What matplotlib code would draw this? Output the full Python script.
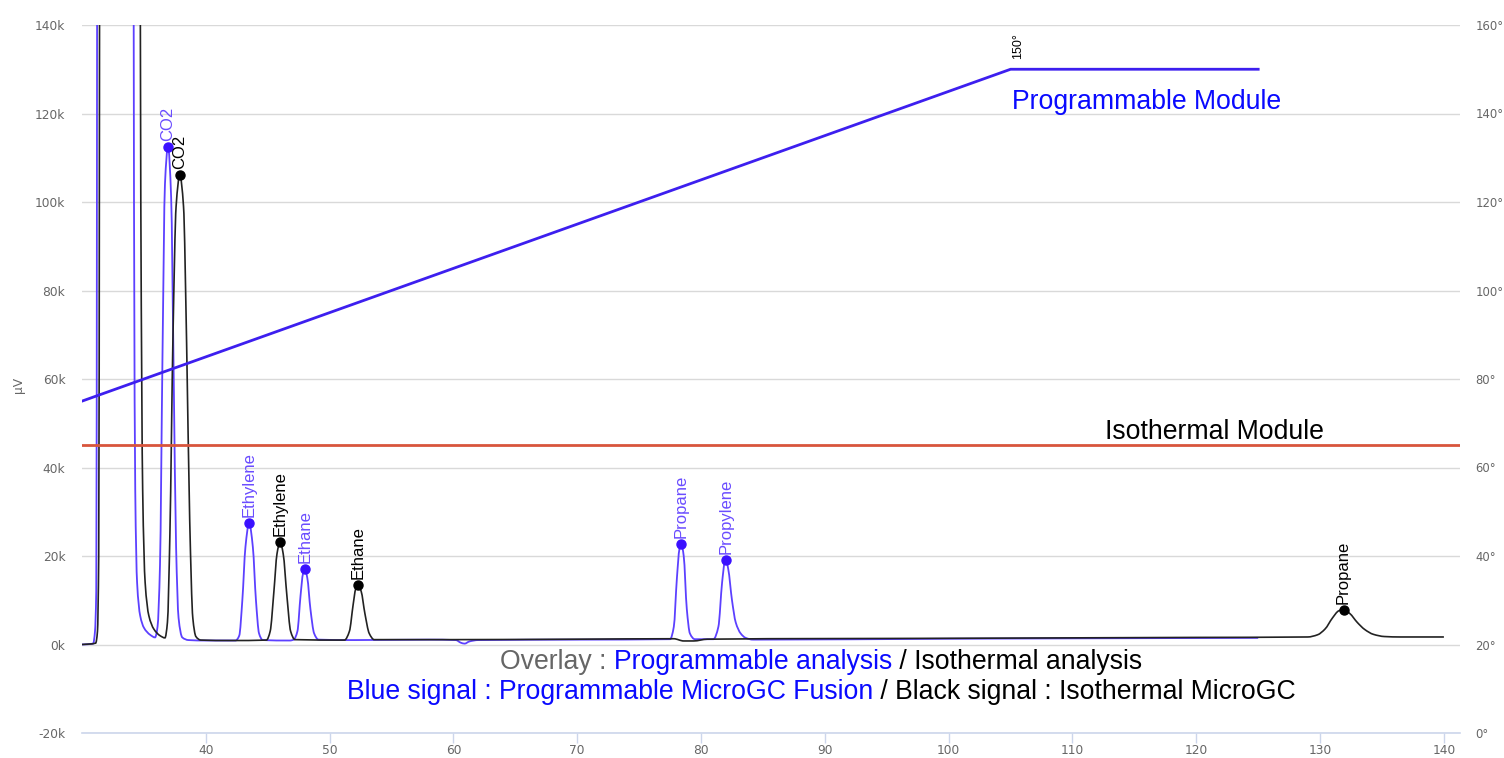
"""
Overlay of two MicroGC chromatograms (programmable vs isothermal module),
with the oven temperature programmes drawn on a secondary axis.
Saves out.png.
"""

import numpy as np
import matplotlib

matplotlib.use("Agg")
import matplotlib.pyplot as plt
from matplotlib.path import Path
from matplotlib.patches import PathPatch

# --- blue signal : programmable MicroGC Fusion (time in min, signal in k uV) ---
blue_time = [30.0, 30.9, 31.05, 31.15, 31.3, 34.1, 34.2, 34.3, 34.45, 34.7,
             35.0, 35.5, 35.9, 36.1, 36.3, 36.5, 36.7, 36.95, 37.2, 37.4,
             37.6, 37.8, 38.1, 38.6, 40.0, 42.4, 42.7, 42.95, 43.2, 43.5,
             43.8, 44.05, 44.3, 44.6, 46.8, 47.1, 47.4, 47.65, 47.85, 48.0,
             48.2, 48.45, 48.75, 49.1, 52.0, 58.0, 60.2, 60.6, 60.9, 61.3,
             62.0, 70.0, 77.5, 77.8, 78.05, 78.25, 78.4, 78.6, 78.85, 79.1,
             79.5, 81.0, 81.4, 81.7, 81.9, 82.0, 82.2, 82.5, 82.8, 83.2,
             83.6, 84.2, 100.0, 125.0]
blue_kuv = [0.0, 0.2, 3, 12, 300, 300, 100, 35, 14, 6.5,
            3.8, 2.2, 1.6, 4, 18, 65, 104, 112.5, 101, 62,
            22, 6, 1.6, 1.0, 0.9, 0.9, 2.0, 10, 22, 27.5,
            22, 10, 2.5, 1.0, 0.9, 1.1, 3, 11, 16, 17,
            15, 8, 2.5, 1.1, 1.0, 1.1, 1.0, 0.4, 0.2, 0.7,
            1.0, 1.1, 1.2, 4, 15, 21.5, 22.8, 20, 8, 2.5,
            1.2, 1.2, 4, 14, 18.5, 19.2, 17, 10, 5, 2.5,
            1.5, 1.1, 1.3, 1.5]

# --- black signal : isothermal MicroGC ---
black_time = [30.0, 31.1, 31.25, 31.35, 31.5, 34.6, 34.75, 34.9, 35.1, 35.4,
              35.8, 36.3, 36.7, 36.9, 37.1, 37.35, 37.6, 37.9, 38.2, 38.45,
              38.7, 38.95, 39.2, 39.6, 42.0, 44.9, 45.2, 45.5, 45.75, 46.0,
              46.25, 46.55, 46.85, 47.2, 51.2, 51.6, 51.9, 52.1, 52.3, 52.55,
              52.85, 53.2, 53.6, 60.0, 70.0, 77.8, 78.6, 79.4, 80.5, 100.0,
              120.0, 129.0, 129.8, 130.4, 131.0, 131.5, 131.9, 132.4, 133.0,
              133.6, 134.3, 135.2, 136.5, 140.0]
black_kuv = [0.0, 0.3, 3, 20, 300, 300, 100, 35, 14, 6.5,
             3.5, 2.0, 1.5, 5, 25, 70, 99, 106, 99, 68,
             28, 6, 1.8, 1.0, 0.9, 1.0, 3, 12, 20.5, 23.2,
             20.5, 11, 3, 1.1, 1.0, 3, 9, 12.5, 13.5, 12,
             7, 2.5, 1.1, 1.1, 1.2, 1.3, 0.8, 0.8, 1.2, 1.4,
             1.6, 1.7, 2.2, 3.5, 6.0, 7.6, 7.9, 7.0, 5.0,
             3.4, 2.3, 1.8, 1.7, 1.7]

# --- identified peaks ---
blue_peak_names = ["CO2", "Ethylene", "Ethane", "Propane", "Propylene"]
blue_peak_time = [36.95, 43.5, 48.0, 78.4, 82.0]
blue_peak_kuv = [112.5, 27.5, 17, 22.8, 19.2]

black_peak_names = ["CO2", "Ethylene", "Ethane", "Propane"]
black_peak_time = [37.9, 46.0, 52.3, 131.9]
black_peak_kuv = [106, 23.2, 13.5, 7.9]

# --- oven temperature programmes (deg C) ---
prog_time = [30, 105, 125]
prog_temp = [75, 150, 150]
iso_time = [30, 141.3]
iso_temp = [65, 65]

# --- axis ticks ---
x_ticks = [40, 50, 60, 70, 80, 90, 100, 110, 120, 130, 140]
uv_ticks_k = [-20, 0, 20, 40, 60, 80, 100, 120, 140]
temp_ticks = [0, 20, 40, 60, 80, 100, 120, 140, 160]

BLUE_SIG = "#5c40ff"
BLUE_DOT = "#3a10ff"
BLUE_LBL = "#6a4cff"
TICK_GREY = "#666666"
AXIS_LINE = "#ccd6eb"
GRID = "#d9d9d9"
SANS = ["Liberation Sans", "DejaVu Sans"]
BIG = 19.2


def spline_path(x, y):
    """Smooth (monotone cubic) path through the given points, like a spline series."""
    x = np.asarray(x, float)
    y = np.asarray(y, float)
    h = np.diff(x)
    d = np.diff(y) / h
    m = np.zeros_like(y)
    m[0], m[-1] = d[0], d[-1]
    for i in range(1, len(x) - 1):
        if d[i - 1] * d[i] > 0:
            w1 = 2 * h[i] + h[i - 1]
            w2 = h[i] + 2 * h[i - 1]
            m[i] = (w1 + w2) / (w1 / d[i - 1] + w2 / d[i])
    verts = [(x[0], y[0])]
    codes = [Path.MOVETO]
    for i in range(len(h)):
        verts += [(x[i] + h[i] / 3, y[i] + m[i] * h[i] / 3),
                  (x[i + 1] - h[i] / 3, y[i + 1] - m[i + 1] * h[i] / 3),
                  (x[i + 1], y[i + 1])]
        codes += [Path.CURVE4] * 3
    return Path(verts, codes)


fig = plt.figure(figsize=(15.04, 7.58), dpi=100)
ax = fig.add_axes([82 / 1504, 1 - 733 / 758, (1460 - 82) / 1504, (733 - 25) / 758])

for t, v, c, lw in ((blue_time, blue_kuv, BLUE_SIG, 1.3),
                    (black_time, black_kuv, "#222222", 1.2)):
    path = spline_path(t, [k * 1000 for k in v])
    ax.add_patch(PathPatch(path, facecolor="none", edgecolor=c, lw=lw, zorder=3))

ax.plot(blue_peak_time, [v * 1000 for v in blue_peak_kuv], "o", color=BLUE_DOT,
        ms=6.5, zorder=4)
ax.plot(black_peak_time, [v * 1000 for v in black_peak_kuv], "o", color="black",
        ms=6.5, zorder=4)

# rotated peak labels just above each marker
for name, t, v in zip(blue_peak_names, blue_peak_time, blue_peak_kuv):
    ax.annotate(name, (t, v * 1000), xytext=(0, 6), textcoords="offset pixels",
                rotation=90, ha="center", va="bottom", color=BLUE_LBL,
                fontsize=12, family=SANS, zorder=5)
for name, t, v in zip(black_peak_names, black_peak_time, black_peak_kuv):
    ax.annotate(name, (t, v * 1000), xytext=(0, 6), textcoords="offset pixels",
                rotation=90, ha="center", va="bottom", color="black",
                fontsize=12, family=SANS, zorder=5)

ax.set_xlim(30, 141.3)
ax.set_ylim(-20000, 140000)
ax.set_xticks(x_ticks)
ax.set_xticklabels([str(t) for t in x_ticks])
ax.set_yticks([k * 1000 for k in uv_ticks_k])
ax.set_yticklabels([f"{k}k" for k in uv_ticks_k])
ax.grid(axis="y", color=GRID, lw=1)
ax.set_axisbelow(True)
for side in ("left", "right", "top"):
    ax.spines[side].set_visible(False)
ax.spines["bottom"].set_color(AXIS_LINE)
ax.spines["bottom"].set_linewidth(1.2)
ax.tick_params(axis="x", direction="out", length=7, width=1, color=AXIS_LINE,
               labelcolor=TICK_GREY, labelsize=8.8, pad=1)
ax.tick_params(axis="y", length=0, labelcolor=TICK_GREY, labelsize=8.8, pad=12)
fig.text(18 / 1504, 1 - 385 / 758, "µV", rotation=90, color=TICK_GREY,
         fontsize=8.8, ha="center", va="center")

# --- temperature axis on the right ---
ax2 = ax.twinx()
ax2.set_ylim(0, 160)
ax2.set_yticks(temp_ticks)
ax2.set_yticklabels([f"{t}°" for t in temp_ticks])
ax2.tick_params(axis="y", length=0, labelcolor=TICK_GREY, labelsize=8.4, pad=11)
for side in ("left", "right", "top", "bottom"):
    ax2.spines[side].set_visible(False)

ax2.plot(prog_time, prog_temp, color="#3d1fef", lw=2, zorder=3)
ax2.plot(iso_time, iso_temp, color="#d8553c", lw=2, zorder=3)
ax2.annotate("150°", (prog_time[1], prog_temp[1]), xytext=(7, 10),
             textcoords="offset pixels", rotation=90, ha="center", va="bottom",
             fontsize=9, family=SANS, color="black")
ax2.text(105.1, 142.6, "Programmable Module", color="#0a0aff", fontsize=BIG,
         family=SANS, va="center", ha="left")
ax2.text(112.6, 68.0, "Isothermal Module", color="black", fontsize=BIG,
         family=SANS, va="center", ha="left")

# --- caption lines with mixed colours, centred ---
renderer = fig.canvas.get_renderer()


def text_width(s, size):
    probe = fig.text(0, 0, s + "|", fontsize=size, family=SANS)
    bar = fig.text(0, 0, "|", fontsize=size, family=SANS)
    w = probe.get_window_extent(renderer).width - bar.get_window_extent(renderer).width
    probe.remove()
    bar.remove()
    return w


def caption(y, parts, size, x_center=0.546):
    full = "".join(p for p, _ in parts)
    total = text_width(full, size)
    x0 = x_center * fig.bbox.width - total / 2
    prefix = ""
    for s, c in parts:
        x = x0 + (text_width(prefix, size) if prefix else 0)
        fig.text(x / fig.bbox.width, y, s, color=c, fontsize=size, family=SANS,
                 ha="left", va="center")
        prefix += s


caption(1 - 662 / 758, [("Overlay : ", "#666666"),
                        ("Programmable analysis", "#0a0aff"),
                        (" / Isothermal analysis", "black")], BIG)
caption(1 - 692 / 758, [("Blue signal : Programmable MicroGC Fusion", "#0a0aff"),
                        (" / Black signal : Isothermal MicroGC", "black")], BIG)

fig.savefig("out.png", dpi=100)
